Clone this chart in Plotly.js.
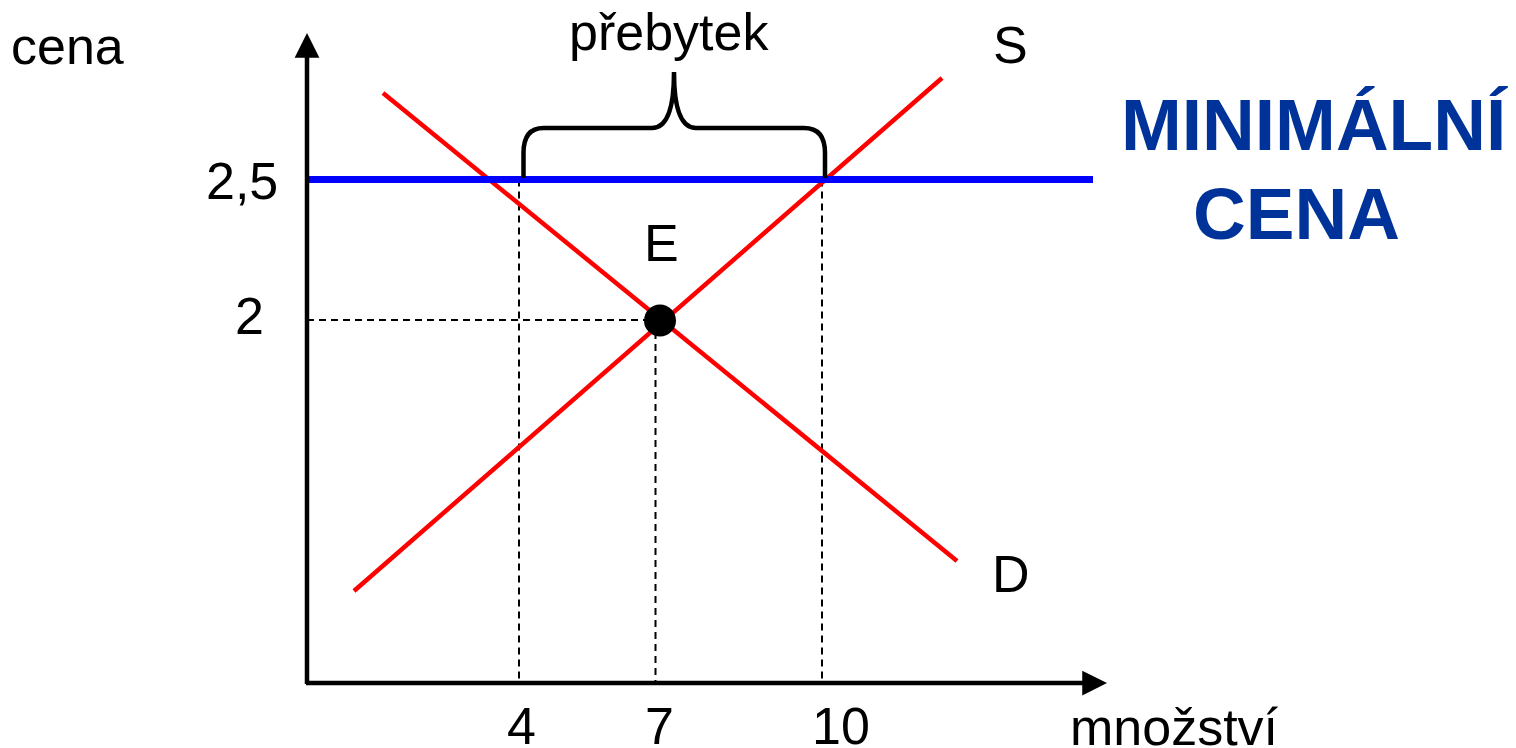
<!DOCTYPE html>
<html>
<head>
<meta charset="utf-8">
<script src="https://cdn.plot.ly/plotly-3.0.1.min.js"></script>
<style>
html,body{margin:0;padding:0;background:#fff;}
#chart{width:1516px;height:748px;}
</style>
</head>
<body>
<div id="chart"></div>
<script>
// ---- data (schematic units: 1 unit on each axis) ----
const supplyX = [0.94, 12.70];
const supplyY = [1.84, 12.10];
const demandX = [1.52, 13.00];
const demandY = [11.80, 2.44];

const floorPrice = 10.07;           // "2,5" level
const floorX = [0, 15.72];

const eqQ = 6.97;                   // "7"
const eqP = 7.26;                   // "2"
const eqDot = [7.06, 7.25];

const surplusLowQ = 4.24;           // "4"
const surplusHighQ = 10.30;         // "10"

// brace key points: [left end, left corner start, left corner end, mid curve start, peak, mid curve end, right corner start, right corner end, right end]
const braceX = [4.33, 4.33, 4.73, 6.90, 7.34, 7.78, 9.94, 10.36, 10.36];
const braceY = [10.10, 10.60, 11.10, 11.10, 12.22, 11.10, 11.10, 10.60, 10.10];

const priceLabels = ['2,5', '2'];
const priceLabelX = [-1.30, -1.15];
const priceLabelY = [10.04, 7.34];

const qtyLabels = ['4', '7', '10'];
const qtyLabelX = [4.29, 7.05, 10.68];
const qtyLabelY = -0.86;

const xRange = [0, 16];
const yRange = [0, 13];

// ---- styles ----
const FONT = '"Liberation Sans", Arial, sans-serif';
const dashStyle = {color: '#000', width: 2, dash: '7px,5px'};

const traces = [
  {x: [0, eqQ], y: [eqP, eqP], mode: 'lines', line: dashStyle, hoverinfo: 'skip'},
  {x: [eqQ, eqQ], y: [eqP, 0], mode: 'lines', line: dashStyle, hoverinfo: 'skip'},
  {x: [surplusLowQ, surplusLowQ], y: [floorPrice, 0], mode: 'lines', line: dashStyle, hoverinfo: 'skip'},
  {x: [surplusHighQ, surplusHighQ], y: [floorPrice, 0], mode: 'lines', line: dashStyle, hoverinfo: 'skip'},
  {x: supplyX, y: supplyY, mode: 'lines', name: 'S', line: {color: '#ff0000', width: 4.5}},
  {x: demandX, y: demandY, mode: 'lines', name: 'D', line: {color: '#ff0000', width: 4.5}},
  {x: floorX, y: [floorPrice, floorPrice], mode: 'lines', name: 'minimální cena', line: {color: '#0000ff', width: 7}},
  {x: [eqDot[0]], y: [eqDot[1]], mode: 'markers', name: 'E', marker: {color: '#000', size: 32}}
];

const b = braceX.map((x, i) => x + ',' + braceY[i]);
const bracePath =
  'M' + b[0] + ' L' + b[1] + ' Q' + braceX[0] + ',' + braceY[2] + ' ' + b[2] +
  ' L' + b[3] + ' Q' + braceX[4] + ',' + braceY[3] + ' ' + b[4] +
  ' Q' + braceX[4] + ',' + braceY[5] + ' ' + b[5] +
  ' L' + b[6] + ' Q' + braceX[8] + ',' + braceY[6] + ' ' + b[7] +
  ' L' + b[8];

const shapes = [
  {type: 'path', xref: 'x', yref: 'y', path: bracePath, line: {color: '#000', width: 4.5}, fillcolor: 'rgba(0,0,0,0)', layer: 'above'}
];

// label helper: positions given in axis units, placed with paper refs so they may sit outside the plot
function txt(text, x, y, opts) {
  return Object.assign({
    text: text,
    x: (x - xRange[0]) / (xRange[1] - xRange[0]),
    y: (y - yRange[0]) / (yRange[1] - yRange[0]),
    xref: 'paper', yref: 'paper',
    xanchor: 'center', yanchor: 'middle', showarrow: false,
    font: {family: FONT, size: 52, color: '#000'}
  }, opts || {});
}

const annotations = [
  {x: 0, y: yRange[1], ax: 0, ay: -0.05, xref: 'x', yref: 'y', axref: 'x', ayref: 'y',
   text: '', showarrow: true, arrowhead: 2, arrowsize: 1.1, arrowwidth: 4.5, arrowcolor: '#000'},
  {x: xRange[1], y: 0, ax: -0.05, ay: 0, xref: 'x', yref: 'y', axref: 'x', ayref: 'y',
   text: '', showarrow: true, arrowhead: 2, arrowsize: 1.1, arrowwidth: 4.5, arrowcolor: '#000'},
  txt('cena', -4.8, 12.74),
  txt('množství', 17.34, -0.88),
  txt('S', 14.06, 12.76),
  txt('D', 14.08, 2.18),
  txt('E', 7.08, 8.8),
  txt('přebytek', 7.24, 13.02),
  txt('<b>MINIMÁLNÍ</b>', 20.14, 11.18, {font: {family: FONT, size: 73, color: '#003399'}}),
  txt('<b>CENA</b>', 19.78, 9.40, {font: {family: FONT, size: 73, color: '#003399'}})
];
priceLabels.forEach((t, i) => annotations.push(txt(t, priceLabelX[i], priceLabelY[i])));
qtyLabels.forEach((t, i) => annotations.push(txt(t, qtyLabelX[i], qtyLabelY)));

const axisCommon = {showgrid: false, zeroline: false, showticklabels: false, showline: false, ticks: '', fixedrange: true};

const layout = {
  width: 1516, height: 748,
  margin: {l: 307, r: 409, t: 33, b: 65},
  paper_bgcolor: '#fff', plot_bgcolor: '#fff',
  showlegend: false,
  xaxis: Object.assign({range: xRange}, axisCommon),
  yaxis: Object.assign({range: yRange}, axisCommon),
  shapes: shapes,
  annotations: annotations,
  font: {family: FONT}
};

Plotly.newPlot('chart', traces, layout, {displayModeBar: false, staticPlot: true});
</script>
</body>
</html>
